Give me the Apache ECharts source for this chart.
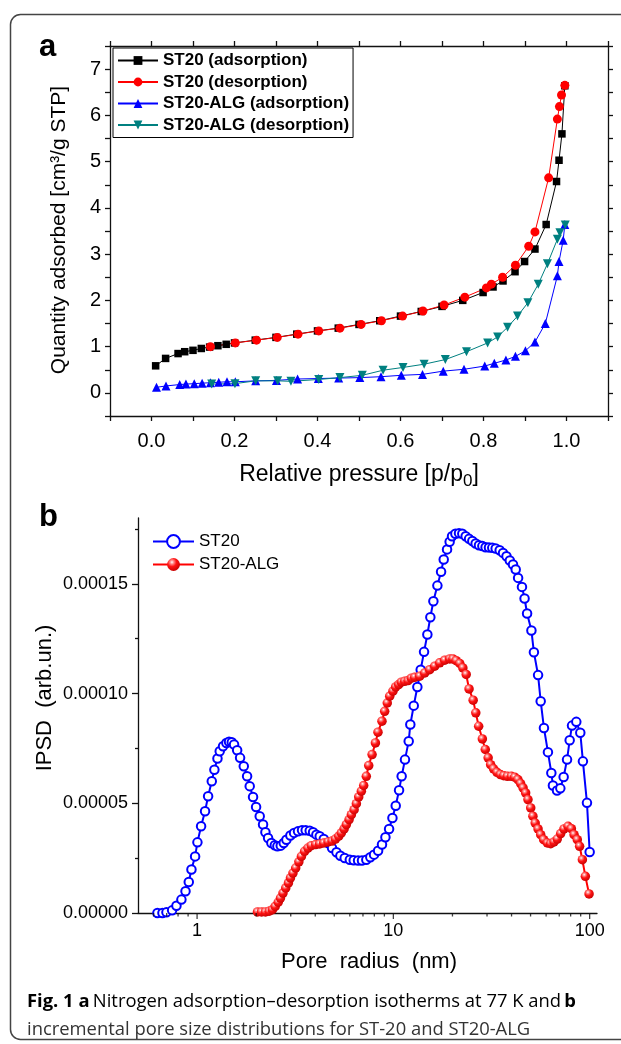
<!DOCTYPE html>
<html>
<head>
<meta charset="utf-8">
<script src="https://cdn.jsdelivr.net/npm/echarts@6/dist/echarts.min.js"></script>
<style>
html,body{margin:0;padding:0;background:#fff;}
#chart{width:621px;height:1044px;}
</style>
</head>
<body>
<div id="chart"></div>
<script>
// ---------------- Panel a : isotherms ----------------
const st20AdsP = [0.010,0.034,0.064,0.080,0.100,0.120,0.140,0.160,0.180,0.200,0.250,0.300,0.350,0.400,0.450,0.500,0.550,0.600,0.650,0.700,0.750,0.799,0.823,0.847,0.876,0.899,0.924,0.951,0.976,0.982,0.989,0.996];
const st20AdsQ = [0.585,0.745,0.85,0.89,0.92,0.96,0.99,1.02,1.05,1.08,1.14,1.20,1.27,1.34,1.40,1.48,1.56,1.66,1.76,1.87,2.00,2.17,2.29,2.42,2.62,2.84,3.11,3.64,4.57,5.03,5.60,6.64];

const st20DesP = [0.996,0.988,0.983,0.978,0.957,0.924,0.909,0.877,0.846,0.819,0.807,0.755,0.705,0.654,0.605,0.554,0.505,0.454,0.403,0.353,0.303,0.253,0.202,0.142];
const st20DesQ = [6.65,6.44,6.19,5.92,4.65,3.48,3.17,2.76,2.50,2.35,2.27,2.07,1.90,1.77,1.66,1.56,1.48,1.40,1.34,1.27,1.20,1.14,1.08,1.00];

const algAdsP = [0.012,0.035,0.068,0.083,0.103,0.122,0.142,0.162,0.182,0.202,0.251,0.301,0.352,0.402,0.451,0.502,0.553,0.602,0.653,0.703,0.753,0.803,0.826,0.854,0.877,0.901,0.924,0.949,0.978,0.982,0.992,0.996];
const algAdsQ = [0.12,0.15,0.18,0.19,0.20,0.21,0.22,0.23,0.24,0.24,0.26,0.27,0.30,0.31,0.32,0.33,0.35,0.38,0.40,0.47,0.51,0.58,0.64,0.71,0.79,0.91,1.10,1.50,2.53,2.84,3.30,3.64];

const algDesP = [0.997,0.984,0.978,0.954,0.932,0.907,0.882,0.858,0.834,0.810,0.759,0.708,0.657,0.606,0.558,0.508,0.454,0.403,0.336,0.304,0.251,0.201,0.145];
const algDesQ = [3.63,3.46,3.32,2.79,2.35,1.95,1.66,1.42,1.21,1.08,0.89,0.72,0.62,0.55,0.49,0.38,0.33,0.29,0.25,0.26,0.26,0.20,0.19];

const isoSeriesNames = ['ST20 (adsorption)','ST20 (desorption)','ST20-ALG (adsorption)','ST20-ALG (desorption)'];

// ---------------- Panel b : pore size distributions ----------------
const st20Radius = [0.628,0.666,0.698,0.746,0.785,0.832,0.873,0.907,0.936,0.977,1.004,1.048,1.098,1.138,1.188,1.225,1.27,1.304,1.356,1.41,1.455,1.502,1.543,1.6,1.656,1.729,1.798,1.854,1.928,1.998,2.085,2.168,2.229,2.3,2.39,2.488,2.565,2.668,2.763,2.851,2.987,3.119,3.267,3.425,3.575,3.748,3.898,4.053,4.215,4.42,4.65,4.87,5.13,5.37,5.65,6.0,6.28,6.61,6.92,7.28,7.63,7.97,8.36,8.75,9.11,9.51,9.89,10.28,10.69,11.02,11.46,11.97,12.2,12.7,13.25,13.78,14.33,14.9,15.43,15.99,16.76,17.5,18.05,18.77,19.35,19.9,20.7,21.6,22.45,23.35,24.3,25.25,26.25,27.3,28.4,29.5,30.7,31.9,33.2,34.8,36.2,37.7,39.2,40.7,42.0,43.2,45.2,46.6,48.0,50.5,52.0,54.6,56.3,58.5,61.3,63.8,65.0,68.2,70.9,73.7,76.7,79.1,81.3,85.5,89.6,92.4,96.9,100.0];
const st20Ipsd = [0,0,0.03e-5,0.12e-5,0.33e-5,0.61e-5,0.99e-5,1.41e-5,1.98e-5,2.58e-5,3.22e-5,3.95e-5,4.64e-5,5.32e-5,6.00e-5,6.53e-5,7.04e-5,7.37e-5,7.60e-5,7.75e-5,7.80e-5,7.78e-5,7.68e-5,7.42e-5,7.07e-5,6.69e-5,6.23e-5,5.78e-5,5.29e-5,4.83e-5,4.41e-5,4.03e-5,3.68e-5,3.42e-5,3.19e-5,3.09e-5,3.04e-5,3.07e-5,3.19e-5,3.34e-5,3.53e-5,3.65e-5,3.72e-5,3.77e-5,3.77e-5,3.75e-5,3.68e-5,3.57e-5,3.50e-5,3.37e-5,3.19e-5,2.96e-5,2.77e-5,2.61e-5,2.51e-5,2.43e-5,2.40e-5,2.39e-5,2.39e-5,2.43e-5,2.54e-5,2.66e-5,2.84e-5,3.12e-5,3.45e-5,3.83e-5,4.33e-5,4.89e-5,5.59e-5,6.23e-5,6.99e-5,7.83e-5,8.59e-5,9.45e-5,10.3e-5,11.09e-5,11.90e-5,12.69e-5,13.48e-5,14.21e-5,14.92e-5,15.55e-5,16.11e-5,16.57e-5,16.92e-5,17.17e-5,17.28e-5,17.31e-5,17.28e-5,17.17e-5,17.05e-5,16.95e-5,16.84e-5,16.76e-5,16.72e-5,16.67e-5,16.66e-5,16.64e-5,16.61e-5,16.53e-5,16.41e-5,16.26e-5,16.06e-5,15.88e-5,15.65e-5,15.27e-5,14.86e-5,14.33e-5,13.65e-5,12.87e-5,11.88e-5,10.84e-5,9.65e-5,8.43e-5,7.33e-5,6.38e-5,5.81e-5,5.58e-5,5.68e-5,6.20e-5,6.99e-5,7.87e-5,8.54e-5,8.71e-5,8.21e-5,6.91e-5,5.02e-5,2.78e-5];

const algRadius = [2.03,2.13,2.23,2.33,2.42,2.50,2.59,2.66,2.74,2.83,2.92,2.99,3.08,3.18,3.30,3.40,3.53,3.67,3.82,4.02,4.21,4.42,4.65,4.87,5.07,5.27,5.43,5.61,5.76,5.95,6.11,6.31,6.48,6.66,6.87,7.06,7.28,7.49,7.79,8.10,8.35,8.75,9.03,9.31,9.58,9.95,10.27,10.64,10.98,11.42,11.88,12.35,12.84,13.62,14.45,15.31,16.24,17.22,18.26,19.37,20.1,20.9,21.8,22.6,23.5,24.3,25.5,26.3,27.2,28.4,29.4,30.4,31.3,32.4,33.7,35.1,36.5,38.1,39.9,41.5,43.1,44.5,45.8,47.2,48.5,50.1,51.4,52.8,54.6,56.3,58.3,60.9,63.3,65.8,68.4,71.2,74.0,77.6,80.7,83.3,86.5,88.9,91.8,95.1,99.3];
const algIpsd = [0.05e-5,0.05e-5,0.05e-5,0.08e-5,0.15e-5,0.30e-5,0.49e-5,0.68e-5,0.91e-5,1.14e-5,1.37e-5,1.60e-5,1.82e-5,2.05e-5,2.33e-5,2.58e-5,2.81e-5,2.96e-5,3.07e-5,3.12e-5,3.15e-5,3.19e-5,3.24e-5,3.28e-5,3.37e-5,3.50e-5,3.65e-5,3.83e-5,4.03e-5,4.26e-5,4.48e-5,4.71e-5,4.98e-5,5.29e-5,5.55e-5,5.81e-5,6.23e-5,6.72e-5,7.22e-5,7.75e-5,8.24e-5,8.74e-5,9.19e-5,9.57e-5,9.88e-5,10.11e-5,10.30e-5,10.41e-5,10.52e-5,10.56e-5,10.59e-5,10.70e-5,10.74e-5,10.79e-5,10.94e-5,11.09e-5,11.25e-5,11.40e-5,11.52e-5,11.58e-5,11.58e-5,11.50e-5,11.37e-5,11.17e-5,10.87e-5,10.21e-5,9.70e-5,9.12e-5,8.51e-5,7.93e-5,7.45e-5,7.07e-5,6.76e-5,6.57e-5,6.41e-5,6.31e-5,6.26e-5,6.23e-5,6.23e-5,6.19e-5,6.08e-5,5.90e-5,5.70e-5,5.47e-5,5.17e-5,4.79e-5,4.41e-5,4.10e-5,3.83e-5,3.57e-5,3.34e-5,3.19e-5,3.16e-5,3.24e-5,3.37e-5,3.62e-5,3.83e-5,3.95e-5,3.84e-5,3.57e-5,3.34e-5,3.04e-5,2.43e-5,1.67e-5,0.87e-5];

const psdSeriesNames = ['ST20','ST20-ALG'];

// tick values (axis furniture)
const psdYMajorTicks = [0,0.00005,0.00010,0.00015];
const psdYMinorTicks = [0.000025,0.000075,0.000125,0.000175];
const psdXMajorTicks = [1,10,100];
const psdXMinorTicks = [0.6,0.7,0.8,0.9,2,3,4,5,6,7,8,9,20,30,40,50,60,70,80,90];

// ---------------- chart ----------------
const FONT = '"Liberation Sans", Arial, sans-serif';
const AX = {color:'#111', width:1.3};
function pairs(xs, ys){ return xs.map((x,i)=>[x, ys[i]]); }

const chart = echarts.init(document.getElementById('chart'), null, {renderer:'canvas', width:621, height:1044});

const sphereRed = {type:'radial', x:0.38, y:0.32, r:0.72, colorStops:[
  {offset:0, color:'#ffffff'},{offset:0.2, color:'#ff8c8c'},{offset:0.48, color:'#ff1414'},{offset:1, color:'#c40000'}]};

function isoXFmt(v){ const k=Math.round(v*10); return (Math.abs(v*10-k)<1e-6 && k>=0 && k<=10 && k%2===0) ? (k/10).toFixed(1) : ''; }
function isoYFmt(v){ const k=Math.round(v); return (Math.abs(v-k)<1e-6 && k>=0) ? String(k) : ''; }
function logFmt(v){ const l=Math.log10(v); return Math.abs(l-Math.round(l))<1e-6 ? String(Math.round(v)) : ''; }

const option = {
  animation:false,
  backgroundColor:'#fff',
  grid:[
    {left:110, top:46, width:498, height:370},
    {left:138, top:518, width:459, height:395}
  ],
  xAxis:[
    {gridIndex:0, type:'value', position:'bottom', min:-0.1, max:1.1, interval:0.1,
     axisLine:{show:true,onZero:false,lineStyle:AX}, axisTick:{show:true,inside:false,length:5,lineStyle:AX},
     axisLabel:{show:true,margin:15,fontSize:20,fontFamily:FONT,color:'#000',formatter:isoXFmt}, splitLine:{show:false}},
    {gridIndex:0, type:'value', position:'top', min:-0.1, max:1.1, interval:0.1,
     axisLine:{show:true,onZero:false,lineStyle:AX}, axisTick:{show:true,inside:false,length:5,lineStyle:AX},
     axisLabel:{show:false}, splitLine:{show:false}},
    {gridIndex:1, type:'log', logBase:10, position:'bottom', min:0.5, max:109,
     axisLine:{show:true,onZero:false,lineStyle:AX}, axisTick:{show:false},
     axisLabel:{show:true,margin:9,fontSize:18,fontFamily:FONT,color:'#000',formatter:logFmt}, splitLine:{show:false}, minorTick:{show:false}}
  ],
  yAxis:[
    {gridIndex:0, type:'value', position:'left', min:-0.5, max:7.5, interval:0.5,
     axisLine:{show:true,onZero:false,lineStyle:AX}, axisTick:{show:true,inside:false,length:5,lineStyle:AX},
     axisLabel:{show:true,margin:9,fontSize:20,fontFamily:FONT,color:'#000',formatter:isoYFmt}, splitLine:{show:false}},
    {gridIndex:0, type:'value', position:'right', min:-0.5, max:7.5, interval:0.5,
     axisLine:{show:true,onZero:false,lineStyle:AX}, axisTick:{show:true,inside:false,length:5,lineStyle:AX},
     axisLabel:{show:false}, splitLine:{show:false}},
    {gridIndex:1, type:'value', position:'left', min:0, max:0.00018, interval:0.00005,
     axisLine:{show:true,onZero:false,lineStyle:AX},
     axisTick:{show:true,inside:false,length:6,lineStyle:AX,customValues:psdYMajorTicks},
     axisLabel:{show:true,margin:10,fontSize:18,fontFamily:FONT,color:'#000',customValues:psdYMajorTicks,formatter:v=>v.toFixed(5)},
     splitLine:{show:false}},
    {gridIndex:1, type:'value', position:'left', min:0, max:0.00018, interval:0.00005,
     axisLine:{show:false,onZero:false},
     axisTick:{show:true,inside:false,length:3,lineStyle:AX,customValues:psdYMinorTicks},
     axisLabel:{show:false}, splitLine:{show:false}}
  ],
  legend:[
    {data:isoSeriesNames, orient:'vertical', left:113, top:48, padding:[4,4,4,4], itemGap:4.5, itemWidth:40, itemHeight:11,
     borderColor:'#000', borderWidth:1, backgroundColor:'#fff',
     textStyle:{fontSize:17, fontWeight:'bold', fontFamily:FONT, color:'#000', lineHeight:17}},
    {data:psdSeriesNames, orient:'vertical', left:152, top:533, padding:0, itemGap:6, itemWidth:41, itemHeight:16,
     textStyle:{fontSize:17, fontFamily:FONT, color:'#000', lineHeight:16}}
  ],
  series:[
    {name:isoSeriesNames[0], type:'line', xAxisIndex:0, yAxisIndex:0, data:pairs(st20AdsP, st20AdsQ),
     symbol:'rect', symbolSize:7.5, lineStyle:{color:'#000',width:1}, itemStyle:{color:'#000'}},
    {name:isoSeriesNames[1], type:'line', xAxisIndex:0, yAxisIndex:0, data:pairs(st20DesP, st20DesQ),
     symbol:'circle', symbolSize:9, lineStyle:{color:'#ff0000',width:1}, itemStyle:{color:'#ff0000'}},
    {name:isoSeriesNames[2], type:'line', xAxisIndex:0, yAxisIndex:0, data:pairs(algAdsP, algAdsQ),
     symbol:'triangle', symbolSize:9, lineStyle:{color:'#0000ff',width:1}, itemStyle:{color:'#0000ff'}},
    {name:isoSeriesNames[3], type:'line', xAxisIndex:0, yAxisIndex:0, data:pairs(algDesP, algDesQ),
     symbol:'triangle', symbolRotate:180, symbolSize:9, lineStyle:{color:'#008080',width:1}, itemStyle:{color:'#008080'}},

    {name:psdSeriesNames[0], type:'line', xAxisIndex:2, yAxisIndex:2, data:pairs(st20Radius, st20Ipsd),
     symbol:'emptyCircle', symbolSize:8.5, lineStyle:{color:'#0000ff',width:2}, itemStyle:{color:'#0000ff',borderWidth:1.3}},
    {name:psdSeriesNames[1], type:'line', xAxisIndex:2, yAxisIndex:2, data:pairs(algRadius, algIpsd),
     symbol:'circle', symbolSize:9.5, lineStyle:{color:'#ff0000',width:2}, itemStyle:{color:sphereRed, borderWidth:0}},

    {type:'scatter', xAxisIndex:2, yAxisIndex:2, data:psdXMajorTicks.map(r=>[r,0]), symbol:'rect',
     symbolSize:[1.3,6], symbolOffset:[0,3], itemStyle:{color:'#111'}, silent:true, clip:false, z:5},
    {type:'scatter', xAxisIndex:2, yAxisIndex:2, data:psdXMinorTicks.map(r=>[r,0]), symbol:'rect',
     symbolSize:[1.3,3.5], symbolOffset:[0,1.75], itemStyle:{color:'#111'}, silent:true, clip:false, z:5}
  ],
  graphic:[
    {type:'rect', shape:{x:10.5, y:14.5, width:660, height:1025, r:10}, style:{fill:'none', stroke:'#444', lineWidth:1.5}, z:-1},
    {type:'text', x:39, y:47, style:{text:'a', font:'bold 31px "Liberation Sans", Arial', fill:'#000', textVerticalAlign:'middle', verticalAlign:'middle'}},
    {type:'text', x:39, y:517, style:{text:'b', font:'bold 31px "Liberation Sans", Arial', fill:'#000', textVerticalAlign:'middle', verticalAlign:'middle'}},
    {type:'text', x:59, y:230, rotation:Math.PI/2,
     style:{text:'Quantity adsorbed [cm³/g STP]', font:'21px "Liberation Sans", Arial', fill:'#000', textAlign:'center', align:'center', textVerticalAlign:'middle', verticalAlign:'middle'}},
    {type:'text', x:359, y:475,
     style:{text:'{m|Relative pressure [p/p}{s|0}{m|]}', textAlign:'center', align:'center', textVerticalAlign:'middle', verticalAlign:'middle',
       rich:{m:{fontSize:23, fontFamily:FONT, color:'#000', lineHeight:30}, s:{fontSize:17, fontFamily:FONT, color:'#000', lineHeight:17, verticalAlign:'bottom'}}}},
    {type:'text', x:45, y:698, rotation:Math.PI/2,
     style:{text:'IPSD  (arb.un.)', font:'22px "Liberation Sans", Arial', fill:'#000', textAlign:'center', align:'center', textVerticalAlign:'middle', verticalAlign:'middle'}},
    {type:'text', x:369, y:962,
     style:{text:'Pore  radius  (nm)', font:'22px "Liberation Sans", Arial', fill:'#000', textAlign:'center', align:'center', textVerticalAlign:'middle', verticalAlign:'middle'}},
    {type:'text', x:27, y:1002,
     style:{text:'{b|Fig. 1 a} {n|Nitrogen adsorption–desorption isotherms at 77 K and} {b|b}', textVerticalAlign:'middle', verticalAlign:'middle',
       rich:{n:{fontSize:18.4, fontFamily:'"Open Sans"', color:'#333'}, b:{fontSize:18.4, fontFamily:'"Open Sans"', fontWeight:'bold', color:'#333'}}}},
    {type:'text', x:27, y:1030,
     style:{text:'incremental pore size distributions for ST-20 and ST20-ALG', font:'18.4px "Open Sans"', fill:'#333', textVerticalAlign:'middle', verticalAlign:'middle'}}
  ]
};
chart.setOption(option);
</script>
</body>
</html>
